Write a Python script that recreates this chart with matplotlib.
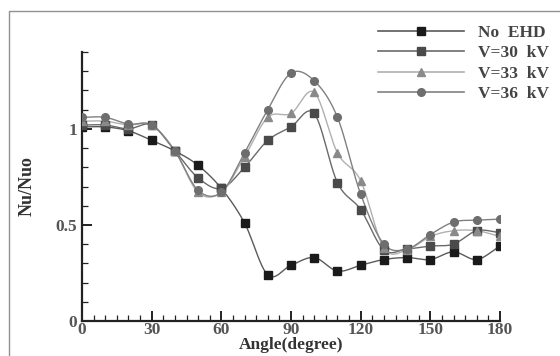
import numpy as np
import matplotlib.pyplot as plt
from matplotlib.patches import Rectangle
from matplotlib.lines import Line2D
from matplotlib.ticker import MultipleLocator

# angle in degrees
angle = [0, 10, 20, 30, 40, 50, 60, 70, 80, 90, 100, 110, 120, 130, 140, 150, 160, 170, 180]

no_ehd = [1.01, 1.01, 0.99, 0.94, 0.885, 0.81, 0.69, 0.51, 0.24, 0.29, 0.33, 0.26, 0.29,
          0.32, 0.33, 0.32, 0.36, 0.32, 0.39]
v30 = [1.02, 1.02, 1.0, 1.02, 0.885, 0.745, 0.69, 0.80, 0.94, 1.01, 1.08, 0.72, 0.58,
       0.37, 0.375, 0.39, 0.40, 0.47, 0.46]
v33 = [1.04, 1.04, 1.02, 1.02, 0.885, 0.67, 0.67, 0.855, 1.06, 1.08, 1.19, 0.875, 0.73,
       0.38, 0.37, 0.44, 0.47, 0.47, 0.44]
v36 = [1.06, 1.06, 1.025, 1.02, 0.885, 0.68, 0.67, 0.875, 1.10, 1.29, 1.25, 1.06, 0.66,
       0.40, 0.375, 0.45, 0.515, 0.525, 0.53]

labels = ['No  EHD', 'V=30  kV', 'V=33  kV', 'V=36  kV']
series = [no_ehd, v30, v33, v36]
markers = ['s', 's', '^', 'o']
mcolors = ['#1a1a1a', '#4a4a4a', '#8a8a8a', '#6e6e6e']
lcolors = ['#5a5a5a', '#6a6a6a', '#b0b0b0', '#808080']


def smooth(x, y, n=12):
    # catmull-rom curve through the data points
    x = np.asarray(x, float)
    y = np.asarray(y, float)
    px = np.concatenate([[2 * x[0] - x[1]], x, [2 * x[-1] - x[-2]]])
    py = np.concatenate([[2 * y[0] - y[1]], y, [2 * y[-1] - y[-2]]])
    xs, ys = [], []
    t = np.linspace(0, 1, n, endpoint=False)
    for i in range(1, len(px) - 2):
        for p, out in ((px, xs), (py, ys)):
            p0, p1, p2, p3 = p[i - 1], p[i], p[i + 1], p[i + 2]
            out.extend(0.5 * (2 * p1 + (-p0 + p2) * t + (2 * p0 - 5 * p1 + 4 * p2 - p3) * t ** 2
                              + (-p0 + 3 * p1 - 3 * p2 + p3) * t ** 3))
    xs.append(x[-1])
    ys.append(y[-1])
    return xs, ys


plt.rcParams['font.family'] = ['Liberation Serif', 'DejaVu Serif']
plt.rcParams['font.weight'] = 'bold'

fig = plt.figure(figsize=(5.6, 3.56), dpi=100)
fig.patches.append(Rectangle((9 / 560, -0.01), 1.0, (356 - 11) / 356 + 0.01,
                             transform=fig.transFigure, fill=False,
                             edgecolor='#909090', linewidth=1.0))
ax = fig.add_axes([82 / 560, 35 / 356, 418 / 560, 269 / 356])

handles = []
for y, lab, m, mc, lc in zip(series, labels, markers, mcolors, lcolors):
    sx, sy = smooth(angle, y)
    ax.plot(sx, sy, color=lc, linewidth=1.0, zorder=2)
    ax.plot(angle, y, linestyle='none', marker=m, markersize=5.5,
            markerfacecolor=mc, markeredgecolor=mc, zorder=3)
    handles.append(Line2D([], [], color=lc, linewidth=1.2, marker=m, markersize=5.5,
                          markerfacecolor=mc, markeredgecolor=mc))

ax.set_xlim(0, 180)
ax.set_ylim(0, 1.4)
ax.xaxis.set_major_locator(MultipleLocator(30))
ax.xaxis.set_minor_locator(MultipleLocator(5))
ax.yaxis.set_minor_locator(MultipleLocator(0.1))
ax.set_yticks([0, 0.5, 1])
ax.set_yticklabels(['0', '0.5', '1'])

for s in ['top', 'right']:
    ax.spines[s].set_visible(False)
for s in ['left', 'bottom']:
    ax.spines[s].set_linewidth(1.6)
    ax.spines[s].set_color('#222222')

ax.tick_params(which='both', direction='in', colors='#222222', labelsize=12.5,
               labelcolor='#555555')
ax.tick_params(which='major', length=7, width=1.4)
ax.tick_params(which='minor', length=4, width=0.9)
ax.tick_params(axis='x', pad=1)
for lab in ax.get_xticklabels() + ax.get_yticklabels():
    lab.set_fontweight('bold')

ax.set_xlabel('Angle(degree)', fontsize=12.5, fontweight='bold', color='#333333', labelpad=-1)
ax.set_ylabel('Nu/Nuo', fontsize=13, fontweight='bold', color='#333333', labelpad=14)

leg = fig.legend(handles, labels, loc='upper left', bbox_to_anchor=(362 / 560, 1 - 9 / 356),
                 frameon=False, handlelength=5.0, handletextpad=0.8,
                 labelspacing=0.25, prop={'weight': 'bold', 'size': 12.5})
for t in leg.get_texts():
    t.set_color('#444444')

fig.savefig('out.png', dpi=100)
